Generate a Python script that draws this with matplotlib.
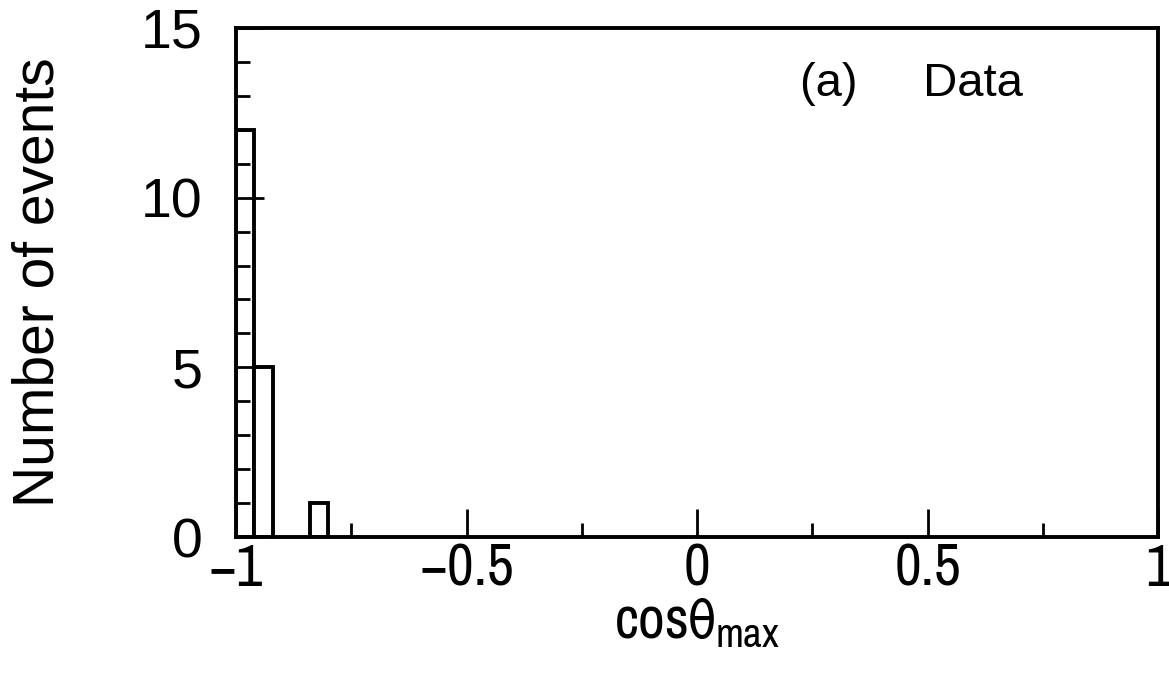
import numpy as np
from matplotlib import pyplot as plt
from matplotlib import font_manager

# histogram bins (width 0.04) with non-zero counts
bin_left = [-1.00, -0.96, -0.84]
counts = [12, 5, 1]
bin_width = 0.04

# look for a regular-weight narrow face for the x axis text
narrow = None
for f in font_manager.fontManager.ttflist:
    if ('Narrow' in f.name or 'Condensed' in f.name) and f.style == 'normal' \
            and f.weight in (400, 'normal', 'regular'):
        narrow = f
        break
if narrow is not None:
    narrow_prop = font_manager.FontProperties(fname=narrow.fname, size=42)
    narrow_family = narrow.name
else:
    narrow_prop = font_manager.FontProperties(family='Liberation Sans', size=42)
    narrow_family = 'Liberation Sans'

plt.rcParams['font.family'] = 'Liberation Sans'
plt.rcParams['mathtext.fontset'] = 'custom'
plt.rcParams['mathtext.rm'] = narrow_family
plt.rcParams['mathtext.it'] = narrow_family
plt.rcParams['mathtext.fallback'] = 'stixsans'

fig = plt.figure(figsize=(11.69, 6.84), dpi=100)
ax = fig.add_axes([236/1169, 1 - 537/684, (1158-236)/1169, (537-28)/684])

ax.bar(bin_left, counts, width=bin_width, align='edge',
       facecolor='white', edgecolor='black', linewidth=2.8)

ax.set_xlim(-1, 1)
ax.set_ylim(0, 15)
for s in ax.spines.values():
    s.set_linewidth(2.8)

ax.set_xticks([-1, -0.5, 0, 0.5, 1])
ax.set_xticklabels(['\u22121', '\u22120.5', '0', '0.5', '1'], fontproperties=narrow_prop)
ax.set_xticks([-0.75, -0.25, 0.25, 0.75], minor=True)
ax.set_yticks([0, 5, 10, 15])
ax.set_yticklabels(['0', '5', '10', '15'], fontsize=40)
ax.set_yticks(np.arange(0, 16, 1), minor=True)

ax.tick_params(axis='both', which='major', direction='in', length=20, width=2,
               top=False, right=False)
ax.tick_params(axis='both', which='minor', direction='in', length=10, width=2,
               top=False, right=False)
ax.tick_params(axis='x', which='major', pad=4)
ax.tick_params(axis='y', which='major', pad=24)

ax.set_ylabel('Number of events', fontsize=41, labelpad=54)
ax.set_xlabel(r'$\mathrm{cos\theta}_{\mathrm{max}}$', fontsize=42, labelpad=0)

ax.text(0.733, 0.89, '(a)     Data', transform=ax.transAxes, fontsize=34,
        ha='center', va='center')

plt.savefig('out.png')
